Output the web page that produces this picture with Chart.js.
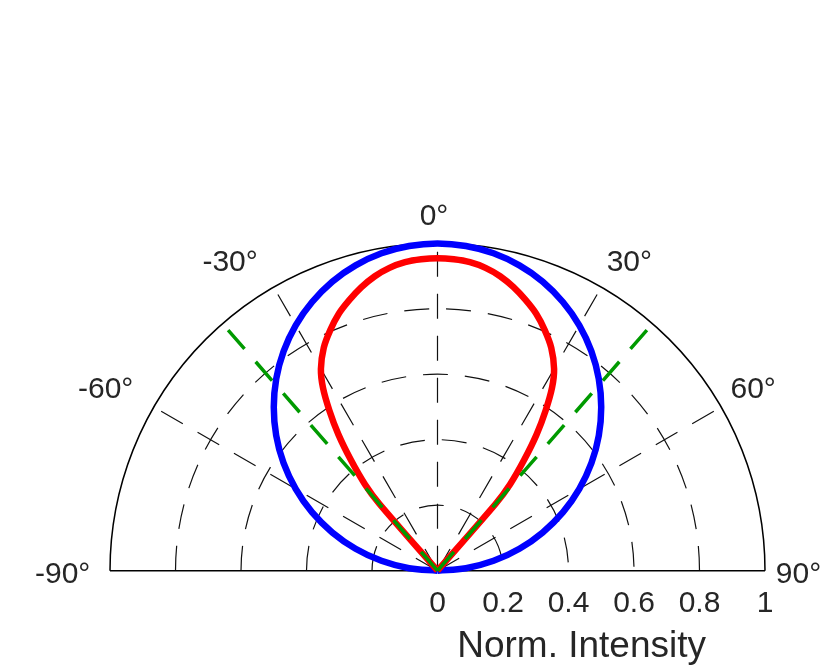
<!DOCTYPE html>
<html>
<head>
<meta charset="utf-8">
<title>Polar emission pattern</title>
<script src="https://cdn.jsdelivr.net/npm/chart.js@4.4.0/dist/chart.umd.min.js"></script>
<style>
  html, body { margin: 0; padding: 0; background: #fff; }
  canvas { display: block; }
</style>
</head>
<body>
<canvas id="polarChart" width="830" height="669"></canvas>
<script>
// angles in degrees, 0 = straight up, positive = clockwise
const lambertAngles = [-90, -85, -80, -75, -70, -65, -60, -55, -50, -45, -40, -35, -30, -25, -20, -15, -10, -5,
  0, 5, 10, 15, 20, 25, 30, 35, 40, 45, 50, 55, 60, 65, 70, 75, 80, 85, 90];
const lambertValues = [0, 0.087, 0.174, 0.259, 0.342, 0.423, 0.5, 0.574, 0.643, 0.707, 0.766, 0.819, 0.866, 0.906, 0.94, 0.966, 0.985, 0.996,
  1, 0.996, 0.985, 0.966, 0.94, 0.906, 0.866, 0.819, 0.766, 0.707, 0.643, 0.574, 0.5, 0.423, 0.342, 0.259, 0.174, 0.087, 0];

const emissionAngles = [-42, -41, -40, -38, -36, -34, -32, -30, -27, -24, -21, -18, -15, -12, -9, -6, -3,
  0, 3, 6, 9, 12, 15, 18, 21, 24, 27, 30, 32, 34, 36, 38, 40, 41, 42];
const emissionValues = [0, 0.27, 0.345, 0.43, 0.515, 0.59, 0.66, 0.712, 0.765, 0.805, 0.841, 0.87, 0.897, 0.92, 0.937, 0.948, 0.953,
  0.955, 0.953, 0.948, 0.937, 0.92, 0.897, 0.87, 0.841, 0.805, 0.765, 0.712, 0.66, 0.59, 0.515, 0.43, 0.345, 0.27, 0];

const criticalAngles = [-41, 41];
const criticalReach = 0.98;

const angleTicks = [-90, -60, -30, 0, 30, 60, 90];
const radiusTicks = [0, 0.2, 0.4, 0.6, 0.8, 1];
const gridRings = [0.2, 0.4, 0.6, 0.8];
const gridSpokes = [-60, -30, 0, 30, 60];
const axisTitle = 'Norm. Intensity';

const FONT = '"Liberation Sans", Arial, Helvetica, sans-serif';
const TEXT = '#262626';

const rad = deg => deg * Math.PI / 180;

function toXY(angles, values) {
  return angles.map((a, i) => ({ x: values[i] * Math.sin(rad(a)), y: values[i] * Math.cos(rad(a)) }));
}

const polarFrame = {
  id: 'polarFrame',
  beforeDatasetsDraw(chart) {
    const { ctx, scales: { x, y } } = chart;
    const cx = x.getPixelForValue(0);
    const cy = y.getPixelForValue(0);
    const R = x.getPixelForValue(1) - cx;

    ctx.save();
    // dashed rings and spokes
    ctx.strokeStyle = '#111';
    ctx.lineWidth = 1.2;
    ctx.setLineDash([25, 17]);
    gridRings.forEach(r => {
      ctx.beginPath();
      ctx.arc(cx, cy, r * R, Math.PI, 2 * Math.PI);
      ctx.stroke();
    });
    gridSpokes.forEach(a => {
      ctx.beginPath();
      ctx.moveTo(cx, cy);
      ctx.lineTo(x.getPixelForValue(Math.sin(rad(a))), y.getPixelForValue(Math.cos(rad(a))));
      ctx.stroke();
    });

    // outer rim and base line
    ctx.setLineDash([]);
    ctx.strokeStyle = '#000';
    ctx.lineWidth = 1.5;
    ctx.beginPath();
    ctx.arc(cx, cy, R, Math.PI, 2 * Math.PI);
    ctx.stroke();
    ctx.beginPath();
    ctx.moveTo(x.getPixelForValue(-1), cy);
    ctx.lineTo(x.getPixelForValue(1), cy);
    ctx.stroke();
    ctx.restore();
  },
  afterDraw(chart) {
    const { ctx, scales: { x, y } } = chart;
    const cx = x.getPixelForValue(0);
    const cy = y.getPixelForValue(0);
    const R = x.getPixelForValue(1) - cx;

    ctx.save();
    ctx.fillStyle = TEXT;
    ctx.font = '30px ' + FONT;
    ctx.textBaseline = 'alphabetic';

    // angle labels around the rim
    angleTicks.forEach(a => {
      const s = Math.sin(rad(a)), c = Math.cos(rad(a));
      const reach = a > 0 ? 1.033 : 1.06 + 0.05 * c * c;
      let px = cx + reach * R * s;
      let py = cy - 1.06 * R * c + 1;
      if (a === 0) {
        ctx.textAlign = 'center';
        px -= 3.5;
      } else {
        ctx.textAlign = a < 0 ? 'right' : 'left';
      }
      if (Math.abs(a) === 90) py = cy + 12;
      ctx.fillText(a + '°', px, py);
    });

    // radius ticks along the base line
    ctx.textAlign = 'center';
    radiusTicks.forEach(v => {
      ctx.fillText(String(v), x.getPixelForValue(v), cy + 41.5);
    });

    ctx.font = '37px ' + FONT;
    ctx.fillText(axisTitle, cx + 0.44 * R, cy + 86);
    ctx.restore();
  }
};

new Chart(document.getElementById('polarChart'), {
  type: 'scatter',
  data: {
    datasets: [
      {
        label: 'Critical angle left',
        data: toXY([criticalAngles[0], criticalAngles[0]], [0, criticalReach]),
        showLine: true,
        borderColor: '#009a00',
        borderWidth: 3.5,
        borderDash: [25, 17],
        order: 0
      },
      {
        label: 'Critical angle right',
        data: toXY([criticalAngles[1], criticalAngles[1]], [0, criticalReach]),
        showLine: true,
        borderColor: '#009a00',
        borderWidth: 3.5,
        borderDash: [25, 17],
        order: 0
      },
      {
        label: 'Emission',
        data: toXY(emissionAngles, emissionValues),
        showLine: true,
        borderColor: '#ff0000',
        borderWidth: 6.5,
        tension: 0.25,
        order: 1
      },
      {
        label: 'Lambertian',
        data: toXY(lambertAngles, lambertValues),
        showLine: true,
        borderColor: '#0000ff',
        borderWidth: 6.5,
        tension: 0.4,
        order: 2
      }
    ]
  },
  options: {
    responsive: false,
    animation: false,
    layout: { padding: { left: 110, right: 65, top: 243.5, bottom: 98.3 } },
    scales: {
      x: { type: 'linear', min: -1, max: 1, display: false },
      y: { type: 'linear', min: 0, max: 1, display: false }
    },
    elements: {
      point: { radius: 0, hoverRadius: 0 },
      line: { capBezierPoints: false, borderJoinStyle: 'round', fill: false }
    },
    datasets: { scatter: { clip: false } },
    plugins: {
      legend: { display: false },
      tooltip: { enabled: false }
    }
  },
  plugins: [polarFrame]
});
</script>
</body>
</html>
